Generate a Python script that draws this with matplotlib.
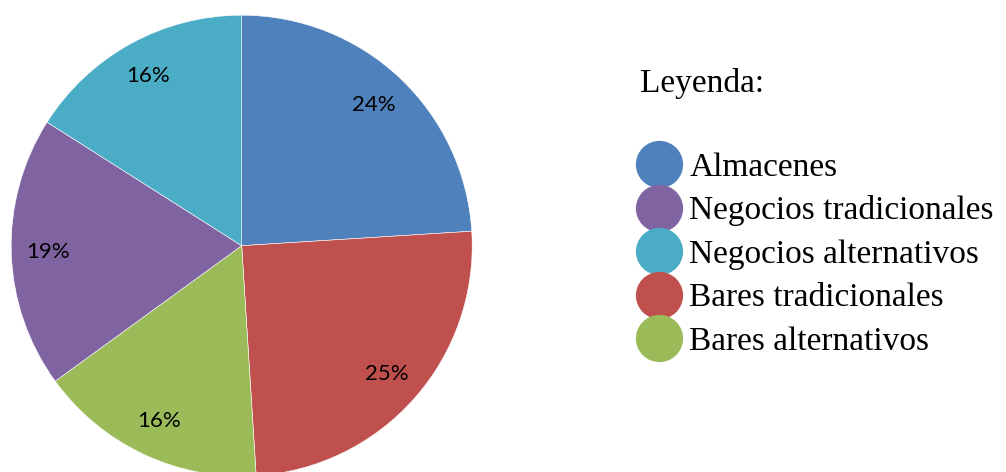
import matplotlib
matplotlib.use("Agg")
import matplotlib.pyplot as plt
from matplotlib.lines import Line2D

# Share of establishments by type (clockwise from 12 o'clock)
categories = ["Almacenes", "Bares tradicionales", "Bares alternativos",
              "Negocios tradicionales", "Negocios alternativos"]
shares = [24, 25, 16, 19, 16]
colors = ["#4F81BD", "#C0504D", "#9BBB59", "#8064A2", "#4BACC6"]

# Order in which the legend lists the categories
legend_order = ["Almacenes", "Negocios tradicionales", "Negocios alternativos",
                "Bares tradicionales", "Bares alternativos"]
legend_title = "Leyenda:"

W, H, DPI = 1006, 472, 100
fig = plt.figure(figsize=(W / DPI, H / DPI), dpi=DPI)
fig.patch.set_facecolor("white")

# Pie axes: centre ~ (242, 246) px from top-left, radius ~ 230 px
cx, cy, r = 241.7, 245.7, 230.5
ax = fig.add_axes([(cx - r) / W, (H - cy - r) / H, 2 * r / W, 2 * r / H])
wedges, texts, autotexts = ax.pie(
    shares,
    colors=colors,
    startangle=90,
    counterclock=False,
    radius=1.0,
    autopct=lambda p: f"{p:.0f}%",
    pctdistance=0.84,
    wedgeprops=dict(edgecolor="white", linewidth=0.4),
    textprops=dict(family="Lato", fontsize=16, color="black"),
)
ax.set_xlim(-1, 1)
ax.set_ylim(-1, 1)
ax.set_aspect("equal")
ax.axis("off")

# Legend heading
fig.text(640 / W, 1 - 92 / H, legend_title, family="Liberation Serif",
         fontsize=24, color="black", ha="left", va="baseline")

# Legend with round colour markers
color_of = dict(zip(categories, colors))
handles = [Line2D([], [], linestyle="none", marker="o", markersize=34,
                  markerfacecolor=color_of[c], markeredgecolor="none")
           for c in legend_order]
fig.legend(handles, legend_order, loc="upper left",
           bbox_to_anchor=(642 / W, 1 - 152 / H),
           frameon=False, borderpad=0, borderaxespad=0,
           handlelength=1.0, handletextpad=0.42, labelspacing=0.39,
           prop=dict(family="Liberation Serif", size=24))

fig.savefig("out.png", dpi=DPI, facecolor="white")
